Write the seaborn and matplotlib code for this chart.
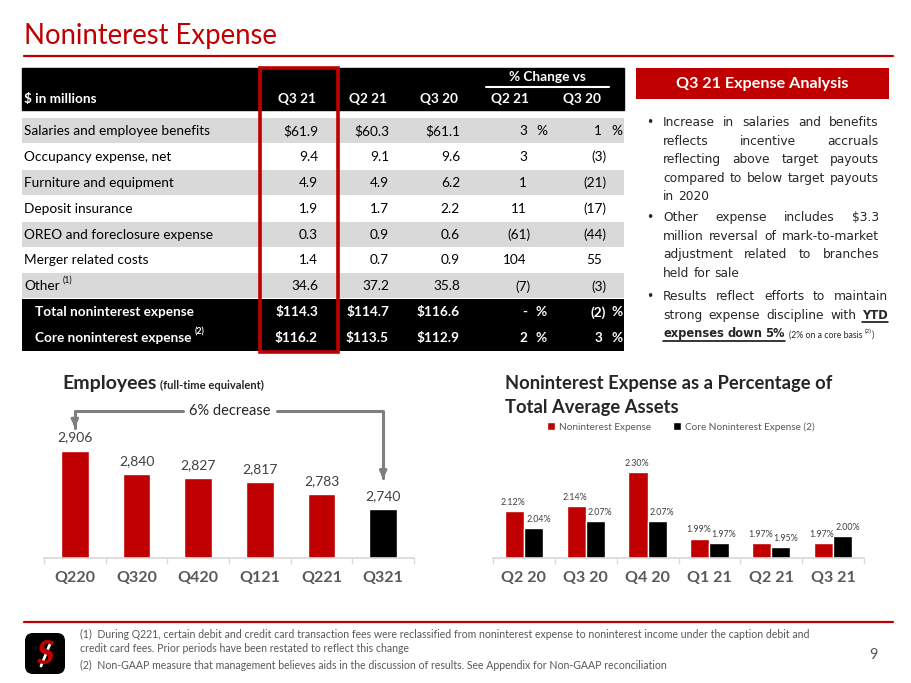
import numpy as np
import pandas as pd
import matplotlib
matplotlib.use('Agg')
import matplotlib.pyplot as plt
import seaborn as sns
from matplotlib.patches import Rectangle, FancyBboxPatch
from matplotlib.transforms import blended_transform_factory

sns.set_theme(style='white')
plt.rcParams['font.family'] = ['Lato', 'DejaVu Sans']
plt.rcParams['text.parse_math'] = False

RED = '#C00000'
DARK = '#404040'
GREY = '#595959'

# -------------------------------
# DATA
# -------------------------------
col_heads = ['Q3 21', 'Q2 21', 'Q3 20']
pct_heads = ['Q2 21', 'Q3 20']
row_labels = ['Salaries and employee benefits', 'Occupancy expense, net', 'Furniture and equipment',
              'Deposit insurance', 'OREO and foreclosure expense', 'Merger related costs', 'Other']
q3_21 = [61.9, 9.4, 4.9, 1.9, 0.3, 1.4, 34.6]
q2_21 = [60.3, 9.1, 4.9, 1.7, 0.9, 0.7, 37.2]
q3_20 = [61.1, 9.6, 6.2, 2.2, 0.6, 0.9, 35.8]
chg_vs_q2_21 = ['3', '3', '1', '11', '(61)', '104', '(7)']
chg_vs_q3_20 = ['1', '(3)', '(21)', '(17)', '(44)', '55', '(3)']

total_labels = ['Total noninterest expense', 'Core noninterest expense']
total_q3_21 = [114.3, 116.2]
total_q2_21 = [114.7, 113.5]
total_q3_20 = [116.6, 112.9]
total_chg_q2_21 = ['-', '2']
total_chg_q3_20 = ['(2)', '3']

emp_quarters = ['Q220', 'Q320', 'Q420', 'Q121', 'Q221', 'Q321']
employees = [2906, 2840, 2827, 2817, 2783, 2740]

pct_quarters = ['Q2 20', 'Q3 20', 'Q4 20', 'Q1 21', 'Q2 21', 'Q3 21']
nonint_pct = [2.12, 2.14, 2.30, 1.99, 1.97, 1.97]
core_pct = [2.04, 2.07, 2.07, 1.97, 1.95, 2.00]

bullets = [
    ['Increase in salaries and benefits', 'reflects incentive accruals', 'reflecting above target payouts',
     'compared to below target payouts', 'in 2020'],
    ['Other expense includes $3.3', 'million reversal of mark-to-market', 'adjustment related to branches',
     'held for sale'],
    ['Results reflect efforts to maintain', 'strong expense discipline with *YTD', '*expenses down 5%'],
]

# -------------------------------
# FIGURE + overlay in pixel coords
# -------------------------------
fig = plt.figure(figsize=(9.11, 6.83), dpi=100)
ov = fig.add_axes([0, 0, 1, 1])
ov.set_xlim(0, 911)
ov.set_ylim(683, 0)
ov.axis('off')
rend = fig.canvas.get_renderer()


def width(t):
    return t.get_window_extent(rend).width


ov.text(24, 36, 'Noninterest Expense', color=RED, fontsize=19.8, va='center')
ov.plot([24, 893], [56, 56], color=RED, lw=1.6)

# table
TS = 9.8
ov.add_patch(Rectangle((22, 68), 602, 42, color='black'))
ov.text(24, 99, '$ in millions', color='white', weight='bold', fontsize=TS, va='center')
val_x = [316, 387, 458]
pct_x = [531, 603]
for x, h in zip(val_x, col_heads):
    ov.text(x, 99, h, color='white', weight='bold', fontsize=TS, va='center', ha='right')
for x, h in zip(pct_x, pct_heads):
    ov.text(x - 2, 99, h, color='white', weight='bold', fontsize=TS, va='center', ha='right')
ov.text(547, 77, '% Change vs', color='white', weight='bold', fontsize=TS, va='center', ha='center')
ov.plot([486, 609], [87, 87], color='white', lw=1.5)

rh = 25.9
y0 = 118


def pct_cell(x, s, y, color, bold, show_pct):
    xr = x + 4 if s.endswith(')') else x
    ov.text(xr, y, s, ha='right', va='center', fontsize=TS, color=color, weight='bold' if bold else 'normal')
    if show_pct:
        ov.text(x + 9, y, '%', ha='left', va='center', fontsize=TS, color=color, weight='bold' if bold else 'normal')


for i, lab in enumerate(row_labels):
    yc = y0 + rh * (i + 0.5)
    if i % 2 == 0:
        ov.add_patch(Rectangle((22, y0 + rh * i), 602, rh - 1, color='#D9D9D9', lw=0))
    t = ov.text(24, yc, lab, fontsize=TS, va='center', color='black')
    if lab == 'Other':
        ov.text(24 + width(t) + 3, yc - 6, '(1)', fontsize=6.3, va='center', color='black')
    vals = [q3_21[i], q2_21[i], q3_20[i]]
    for x, v in zip(val_x, vals):
        s = f'${v:.1f}' if i == 0 else f'{v:.1f}'
        ov.text(x + 2, yc, s, ha='right', va='center', fontsize=TS, color='black')
    pct_cell(pct_x[0] - 4, chg_vs_q2_21[i], yc, 'black', False, i == 0)
    pct_cell(pct_x[1] - 1, chg_vs_q3_20[i], yc, 'black', False, i == 0)

ov.add_patch(Rectangle((22, y0 + rh * 7), 602, rh * 2, color='black', lw=0))
for j, lab in enumerate(total_labels):
    yc = y0 + rh * (7 + j + 0.5)
    t = ov.text(35, yc, lab, fontsize=TS, va='center', color='white', weight='bold')
    if j == 1:
        ov.text(35 + width(t) + 3, yc - 6, '(2)', fontsize=6.3, va='center', color='white', weight='bold')
    vals = [total_q3_21[j], total_q2_21[j], total_q3_20[j]]
    for x, v in zip(val_x, vals):
        ov.text(x + 2, yc, f'${v:.1f}', ha='right', va='center', fontsize=TS, color='white', weight='bold')
    pct_cell(pct_x[0] - 4, total_chg_q2_21[j], yc, 'white', True, True)
    pct_cell(pct_x[1] - 1, total_chg_q3_20[j], yc, 'white', True, True)

ov.add_patch(Rectangle((260, 68), 78, 284, fill=False, edgecolor=RED, lw=2.6))

# right panel
ov.add_patch(Rectangle((636, 68), 253, 31, color=RED, lw=0))
ov.text(762, 84, 'Q3 21 Expense Analysis', color='white', weight='bold', fontsize=11.6, ha='center', va='center')

line_y = [[122, 140.5, 159, 177.5, 196], [217, 235.5, 254, 272.5], [296, 314.5, 333]]
rights = [879, 879, 888]
bfont = 'DejaVu Sans'
bsize = 8.8
bsize_b = 8.3


def space_w(bold):
    a = ov.text(0, 0, 'a a', fontsize=bsize, family=bfont, weight='bold' if bold else 'normal')
    b = ov.text(0, 0, 'aa', fontsize=bsize, family=bfont, weight='bold' if bold else 'normal')
    w = width(a) - width(b)
    a.remove()
    b.remove()
    return w


nat_gap = space_w(False)
nat_gap_b = space_w(True) * 0.75

for pi, (para, ys, xr) in enumerate(zip(bullets, line_y, rights)):
    ov.text(650, ys[0] + 4.3, '\u2022', fontsize=bsize, family=bfont, va='baseline', ha='center')
    for k, (line, y) in enumerate(zip(para, ys)):
        words = line.split(' ')
        bold = False
        ts = []
        for w in words:
            if w.startswith('*'):
                bold = True
                w = w[1:]
            ts.append((ov.text(0, y + 4.3, w, fontsize=bsize_b if bold else bsize, family=bfont,
                               va='baseline', weight='bold' if bold else 'normal'), bold))
        ws = [width(t) for t, _ in ts]
        last = k == len(para) - 1
        if last:
            gap = nat_gap_b if ts[0][1] else nat_gap
        else:
            gap = (xr - 663 - sum(ws)) / (len(ts) - 1)
        x = 663
        ul = []
        for (t, b), w in zip(ts, ws):
            t.set_x(x)
            if b:
                ul.append((x, x + w))
            x += w + gap
        if ul:
            ov.plot([ul[0][0], ul[-1][1]], [y + 7.8, y + 7.8], color='black', lw=1.1)
        if last and pi == 2:
            xs = ul[-1][1] + 4
            t2 = ov.text(xs, y + 4.3, '(2% on a core basis ', fontsize=6.3, va='baseline')
            t3 = ov.text(xs + width(t2), y, '(2)', fontsize=4.5, va='baseline')
            ov.text(xs + width(t2) + width(t3), y + 4.3, ')', fontsize=6.3, va='baseline')

# footer
ov.plot([24, 893], [622, 622], color=RED, lw=1.6)
ov.add_patch(FancyBboxPatch((25, 633), 40, 41, boxstyle='round,pad=0,rounding_size=8', color='black', lw=0))
ov.text(45, 655, 'S', color=RED, fontsize=24, weight='black', style='italic', ha='center', va='center')
ov.plot([41, 50], [666, 644], color='white', lw=2.0)
foot = ['(1)  During Q221, certain debit and credit card transaction fees were reclassified from noninterest expense to noninterest income under the caption debit and',
        'credit card fees. Prior periods have been restated to reflect this change',
        '(2)  Non-GAAP measure that management believes aids in the discussion of results. See Appendix for Non-GAAP reconciliation']
for s, y in zip(foot, [634, 648, 665]):
    ov.text(80, y, s, fontsize=7.6, color=GREY, va='center')
ov.text(873, 655, '9', fontsize=10.5, color=GREY, va='center', ha='center')

# -------------------------------
# Employees chart
# -------------------------------
ax1 = fig.add_axes([44 / 911, 125 / 683, 370 / 911, 118 / 683])
ax1.set_facecolor('none')
sns.barplot(x=emp_quarters, y=employees, hue=emp_quarters, palette=[RED] * 5 + ['black'],
            legend=False, width=0.45, saturation=1, ax=ax1)
ax1.set_ylim(2600, 2936)
for c in ax1.containers:
    ax1.bar_label(c, fmt='{:,.0f}', padding=5, fontsize=10, color=DARK)
t_emp = ov.text(62, 384, 'Employees', fontsize=14, weight='bold', va='center')
ov.text(62 + width(t_emp) + 4, 385, '(full-time equivalent)', fontsize=8, weight='bold', va='center')

tr = blended_transform_factory(ax1.transData, ax1.transAxes)
ax1.plot([0, 0, 1.76], [1.1, 1.245, 1.245], color='#7F7F7F', lw=2.2, transform=tr, clip_on=False)
ax1.plot([3.28, 5, 5], [1.245, 1.245, 0.68], color='#7F7F7F', lw=2.2, transform=tr, clip_on=False)
for xx, ytip in [(0, 1.085), (5, 0.65)]:
    ax1.annotate('', xy=(xx, ytip), xytext=(xx, ytip + 0.09), xycoords=tr, textcoords=tr,
                 arrowprops=dict(arrowstyle='-|>', color='#7F7F7F', lw=2.2, mutation_scale=10))
ax1.text(2.52, 1.245, '6% decrease', transform=tr, fontsize=10.5, color='#262626', ha='center', va='center')

# -------------------------------
# Percentage of assets chart
# -------------------------------
ax2 = fig.add_axes([493 / 911, 125 / 683, 371 / 911, 108 / 683])
ax2.set_facecolor('none')
pct_df = pd.DataFrame({
    'quarter': pct_quarters * 2,
    'series': ['Noninterest Expense'] * 6 + ['Core Noninterest Expense (2)'] * 6,
    'value': nonint_pct + core_pct,
})
sns.barplot(data=pct_df, x='quarter', y='value', hue='series', palette=[RED, 'black'],
            width=0.62, saturation=1, ax=ax2)
ax2.set_ylim(1.9, 2.402)
for c, dx in zip(ax2.containers, [-1.5, 5]):
    for bar in c:
        ax2.annotate(f'{bar.get_height():.2f}%', (bar.get_x() + bar.get_width() / 2, bar.get_height()),
                     xytext=(dx * 0.72, 3), textcoords='offset points', ha='center', va='bottom',
                     fontsize=6.4, color=DARK)
h, l = ax2.get_legend_handles_labels()
ax2.legend(h, l, loc='center', bbox_to_anchor=(681 / 911, 1 - 427 / 683), bbox_transform=fig.transFigure,
           ncol=2, frameon=False, fontsize=7.2, handlelength=0.8, handleheight=0.8, handletextpad=0.4,
           columnspacing=2.2, labelcolor=GREY)
ov.text(505, 384, 'Noninterest Expense as a Percentage of', fontsize=13.2, weight='bold', va='center')
ov.text(505, 408, 'Total Average Assets', fontsize=13.2, weight='bold', va='center')

for ax in (ax1, ax2):
    sns.despine(ax=ax, left=True)
    ax.spines['bottom'].set_color('#D9D9D9')
    ax.set_yticks([])
    ax.set_xlabel('')
    ax.set_ylabel('')
    ax.tick_params(axis='x', which='major', length=0, pad=9, labelsize=11.5, labelcolor=GREY)
    ax.set_xticks(np.arange(-0.5, 6, 1), minor=True)
    ax.tick_params(axis='x', which='minor', length=4, color='#D9D9D9', direction='out', bottom=True)
    for lab in ax.get_xticklabels():
        lab.set_fontweight('bold')
    ax.set_xlim(-0.5, 5.5)

fig.savefig('out.png', dpi=100)
